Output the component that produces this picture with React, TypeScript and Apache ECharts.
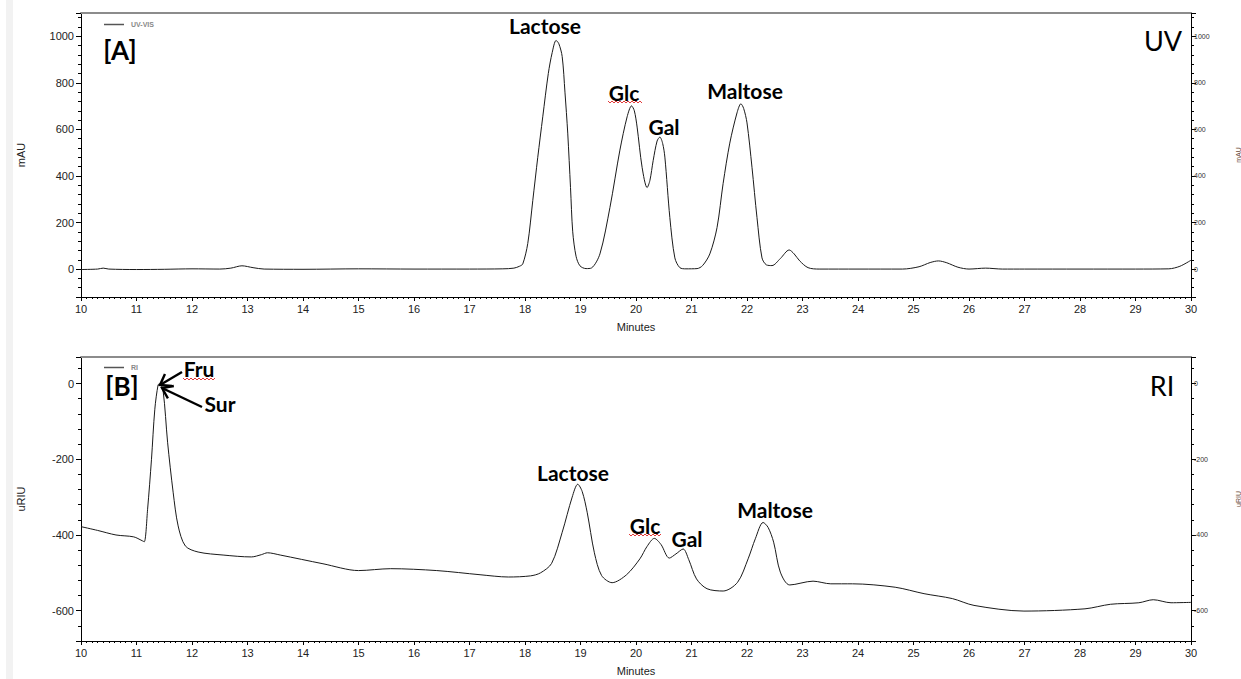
import React, { useEffect, useRef } from "react";
import * as echarts from "echarts";

// ---- Data (minutes, response) ----
const uvTime = [
  10, 10.3, 10.4, 10.5, 11, 11.5, 12, 12.5, 12.7, 12.9, 13.1, 13.3, 14, 15, 16, 17, 17.6, 17.8, 17.9, 17.96,
  18.05, 18.14, 18.23, 18.32, 18.42, 18.49, 18.56, 18.61, 18.67, 18.72, 18.77, 18.82, 18.86, 18.92, 18.99,
  19.1, 19.2, 19.35, 19.53, 19.71, 19.84, 19.92, 19.97, 20.02, 20.11, 20.2, 20.25, 20.31, 20.38, 20.43,
  20.48, 20.52, 20.61, 20.7, 20.79, 20.9, 21.1, 21.2, 21.33, 21.46, 21.57, 21.69, 21.82, 21.89, 21.94,
  22.0, 22.09, 22.18, 22.27, 22.35, 22.45, 22.6, 22.76, 22.85, 22.95, 23.1, 23.3, 24, 24.8, 25.1, 25.3,
  25.45, 25.6, 25.8, 26.0, 26.3, 26.6, 27, 28, 29, 29.6, 29.8, 30,
];
const uvValue = [
  -2, 0, 4, 0, -2, -1, 1, 0, 4, 14, 6, 0, -1, 1, 0, 0, 1, 4, 12, 22,
  110, 294, 480, 654, 840, 930, 982, 968, 913, 760, 584, 350, 160, 55, 14,
  2, 5, 65, 264, 511, 654, 701, 680, 610, 437, 350, 380, 467, 550, 567,
  540, 481, 221, 48, 6, 1, 2, 15, 65, 178, 368, 541, 671, 710, 690,
  628, 437, 221, 48, 18, 15, 45, 82, 65, 35, 6, 0, 0, 0, 10, 28,
  35, 27, 8, 0, 4, 0, 0, 0, 0, 1, 12, 38,
];

const riTime = [
  10, 10.3, 10.63, 10.95, 11.1, 11.14, 11.2, 11.27, 11.33, 11.39, 11.42, 11.48, 11.56, 11.66, 11.75, 11.88,
  12.11, 12.56, 13.07, 13.25, 13.36, 13.59, 14.36, 15.0, 15.58, 16.41, 17.19, 17.7, 18.1, 18.28, 18.48,
  18.67, 18.85, 18.95, 19.03, 19.12, 19.25, 19.38, 19.57, 19.83, 20.07, 20.2, 20.33, 20.45, 20.6, 20.72,
  20.85, 20.95, 21.09, 21.28, 21.57, 21.83, 22.02, 22.15, 22.29, 22.38, 22.48, 22.6, 22.77, 23.19, 23.51,
  23.9, 24.67, 25.19, 25.7, 26.09, 26.99, 28.09, 28.55, 29.06, 29.32, 29.64, 30.0,
];
const riValue = [
  -378, -388, -400, -405, -415, -418, -332, -200, -68, -3, -1, -20, -155, -287, -376, -429,
  -445, -453, -458, -452, -447, -453, -476, -494, -489, -494, -505, -511, -508, -500, -475,
  -393, -300, -266, -285, -340, -447, -507, -526, -505, -463, -430, -409, -425, -461, -450,
  -437, -465, -516, -542, -548, -525, -463, -410, -367, -380, -419, -498, -532, -522, -529,
  -529, -538, -555, -568, -586, -601, -595, -583, -579, -571, -579, -578,
];

const uvPeakLabels = ["Lactose", "Glc", "Gal", "Maltose"];
const riPeakLabels = ["Lactose", "Glc", "Gal", "Maltose"];
const riEarlyLabels = ["Fru", "Sur"];

const AXIS_FONT = "'Liberation Sans', Arial, sans-serif";
const NOTE_FONT = "Lato, 'Open Sans', sans-serif";

function wave(x0: number, x1: number, y: number) {
  const pts: number[][] = [];
  let up = true;
  for (let x = x0; x <= x1; x += 2) {
    pts.push([x, up ? y : y + 2]);
    up = !up;
  }
  return { type: "polyline", shape: { points: pts }, style: { stroke: "#e23a3a", lineWidth: 1, fill: null }, z: 10 };
}

function arrow(tx: number, ty: number, hx: number, hy: number) {
  const dx = tx - hx;
  const dy = ty - hy;
  const len = Math.sqrt(dx * dx + dy * dy);
  const ux = dx / len;
  const uy = dy / len;
  const a = (35 * Math.PI) / 180;
  const L = 12;
  const p1 = [hx + L * (ux * Math.cos(a) - uy * Math.sin(a)), hy + L * (ux * Math.sin(a) + uy * Math.cos(a))];
  const p2 = [hx + L * (ux * Math.cos(-a) - uy * Math.sin(-a)), hy + L * (ux * Math.sin(-a) + uy * Math.cos(-a))];
  return [
    { type: "line", shape: { x1: tx, y1: ty, x2: hx, y2: hy }, style: { stroke: "#000", lineWidth: 2.4 }, z: 10 },
    { type: "polyline", shape: { points: [p1, [hx, hy], p2] }, style: { stroke: "#000", lineWidth: 2.4, fill: null }, z: 10 },
  ];
}

function note(text: string, x: number, y: number, size = 21, weight: any = "bold") {
  return {
    type: "text",
    x,
    y,
    z: 10,
    style: { text, fontSize: size, fontWeight: weight, fontFamily: NOTE_FONT, fill: "#000", align: "center", verticalAlign: "middle" },
  };
}

const plain = (v: number) => String(v);

export default function App() {
  const ref = useRef<HTMLDivElement>(null);
  useEffect(() => {
    if (!ref.current) return;
    const chart = echarts.init(ref.current, null, { renderer: "svg" });

    const mkX = (grid: number) => [
      {
        type: "value",
        gridIndex: grid,
        min: 10,
        max: 30,
        interval: 1,
        position: "bottom",
        name: "Minutes",
        nameLocation: "middle",
        nameGap: 24,
        nameTextStyle: { fontSize: 11, color: "#222", fontFamily: AXIS_FONT },
        axisLine: { show: true, onZero: false, lineStyle: { color: "#000", width: 1 } },
        axisTick: { show: true, inside: false, length: 4, lineStyle: { color: "#000" } },
        minorTick: { show: true, splitNumber: 10, length: 2, lineStyle: { color: "#000" } },
        axisLabel: { fontSize: 11, color: "#222", fontFamily: AXIS_FONT, margin: 6, formatter: plain },
        splitLine: { show: false },
      },
      {
        type: "value",
        gridIndex: grid,
        min: 10,
        max: 30,
        position: "top",
        axisLine: { show: true, onZero: false, lineStyle: { color: "#8c8c8c", width: 2 } },
        axisTick: { show: false },
        minorTick: { show: false },
        axisLabel: { show: false },
        splitLine: { show: false },
      },
    ];

    const mkY = (grid: number, min: number, max: number, name: string) => [
      {
        type: "value",
        gridIndex: grid,
        position: "left",
        min,
        max,
        splitNumber: 5,
        name,
        nameLocation: "middle",
        nameGap: 55,
        nameRotate: 90,
        nameTextStyle: { fontSize: 11, color: "#222", fontFamily: AXIS_FONT },
        axisLine: { show: true, onZero: false, lineStyle: { color: "#000", width: 1 } },
        axisTick: { show: true, length: 5, lineStyle: { color: "#000" } },
        minorTick: { show: true, splitNumber: 5, length: 3, lineStyle: { color: "#000" } },
        axisLabel: { fontSize: 11, color: "#222", fontFamily: AXIS_FONT, showMinLabel: false, showMaxLabel: false, margin: 7, formatter: plain },
        splitLine: { show: false },
      },
      {
        type: "value",
        gridIndex: grid,
        position: "right",
        min,
        max,
        splitNumber: 5,
        name,
        nameLocation: "middle",
        nameGap: 44,
        nameRotate: 90,
        nameTextStyle: { fontSize: 7, color: "#6b4a3a", fontFamily: AXIS_FONT },
        axisLine: { show: true, onZero: false, lineStyle: { color: "#000", width: 1 } },
        axisTick: { show: true, length: 5, lineStyle: { color: "#000" } },
        minorTick: { show: true, splitNumber: 5, length: 3, lineStyle: { color: "#000" } },
        axisLabel: { fontSize: 7, color: "#333", fontFamily: AXIS_FONT, showMinLabel: false, showMaxLabel: false, margin: 3, formatter: plain },
        splitLine: { show: false },
      },
    ];

    const uvData = uvTime.map((t, i) => [t, uvValue[i]]);
    const riData = riTime.map((t, i) => [t, riValue[i]]);

    const graphics: any[] = [
      { type: "rect", shape: { x: 6, y: 0, width: 7, height: 679 }, style: { fill: "#f2f2f2" }, z: 0 },
      note("[A]", 120, 50, 26),
      note("[B]", 122, 386, 26),
      note("UV", 1163, 40, 27, "normal"),
      note("RI", 1162, 385, 27, "normal"),
      note(uvPeakLabels[0], 545, 25),
      note(uvPeakLabels[1], 624, 92),
      wave(608, 642, 101),
      note(uvPeakLabels[2], 664, 126),
      note(uvPeakLabels[3], 745, 90),
      note(riPeakLabels[0], 573, 472),
      note(riPeakLabels[1], 645, 525),
      wave(629, 662, 534),
      note(riPeakLabels[2], 687, 538),
      note(riPeakLabels[3], 775, 509),
      note(riEarlyLabels[0], 199, 368),
      wave(183, 215, 378),
      note(riEarlyLabels[1], 220, 403),
      ...arrow(182, 372, 160, 385),
      ...arrow(202, 407, 162, 388),
    ];

    const legendBase = {
      icon: "rect",
      itemWidth: 20,
      itemHeight: 1.5,
      itemGap: 4,
      itemStyle: { color: "#555" },
      textStyle: { fontSize: 7, color: "#888", fontFamily: AXIS_FONT, fontWeight: "bold", padding: [0, 0, 0, 2] },
    };

    chart.setOption({
      animation: false,
      backgroundColor: "#fff",
      grid: [
        { left: 81, top: 13, width: 1110, height: 284, outerBoundsMode: "none", containLabel: false },
        { left: 81, top: 357, width: 1110, height: 284, outerBoundsMode: "none", containLabel: false },
      ],
      legend: [
        { ...legendBase, data: ["UV-VIS"], left: 99, top: 16 },
        { ...legendBase, data: ["RI"], left: 99, top: 359 },
      ],
      xAxis: [...mkX(0), ...mkX(1)],
      yAxis: [...mkY(0, -120, 1100, "mAU"), ...mkY(1, -680, 70, "uRIU")],
      series: [
        {
          name: "UV-VIS",
          type: "line",
          xAxisIndex: 0,
          yAxisIndex: 0,
          data: uvData,
          showSymbol: false,
          smooth: 0.3,
          lineStyle: { color: "#1a1a1a", width: 1 },
          itemStyle: { color: "#1a1a1a" },
        },
        {
          name: "RI",
          type: "line",
          xAxisIndex: 2,
          yAxisIndex: 2,
          data: riData,
          showSymbol: false,
          smooth: 0.3,
          lineStyle: { color: "#1a1a1a", width: 1 },
          itemStyle: { color: "#1a1a1a" },
        },
      ],
      graphic: graphics,
    });
    return () => chart.dispose();
  }, []);
  return <div ref={ref} style={{ position: "fixed", left: 0, top: 0, width: 1241, height: 679, background: "#fff" }} />;
}
